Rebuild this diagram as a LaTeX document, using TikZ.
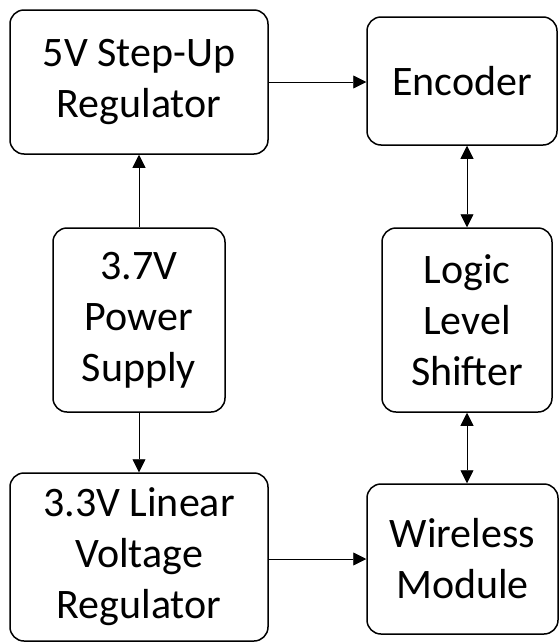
\documentclass[tikz,border=0pt]{standalone}
\usepackage{fontspec}
\setmainfont{Carlito}
\usepackage{tikz}
\usetikzlibrary{arrows.meta, positioning, calc}

\begin{document}
\begin{tikzpicture}[
    box/.style={draw, line width=1.5pt, rounded corners=14pt, inner sep=0pt, align=center, font=\fontsize{42}{51}\selectfont},
    arrow/.style={-{Triangle[length=13pt, width=13pt]}, line width=0.8pt},
    biarrow/.style={{Triangle[length=13pt, width=13pt]}-{Triangle[length=13pt, width=13pt]}, line width=0.8pt}
]
\useasboundingbox (0,0) rectangle (559pt,-643pt);

% left column
\node[box, minimum width=258pt, minimum height=144pt] (stepup) at (139pt,-82pt) {5V Step-Up\\Regulator};
\node[box, minimum width=172pt, minimum height=184pt] (power) at (139pt,-320pt) {3.7V\\Power\\Supply};
\node[box, minimum width=258pt, minimum height=168pt] (linear) at (139pt,-557pt) {3.3V Linear\\Voltage\\Regulator};

% right column
\node[box, minimum width=190pt, minimum height=128pt] (encoder) at (462pt,-81pt) {Encoder};
\node[box, minimum width=170pt, minimum height=184pt] (shifter) at (467pt,-320pt) {Logic\\Level\\Shifter};
\node[box, minimum width=191pt, minimum height=150pt] (wireless) at (462.5pt,-559pt) {Wireless\\Module};

\draw[arrow] (power) -- (stepup);
\draw[arrow] (power) -- (linear);
\draw[arrow] (stepup.east) -- (encoder.west |- stepup.east);
\draw[arrow] (linear.east |- wireless.west) -- (wireless.west);
\draw[biarrow] (shifter.north |- encoder.south) -- (shifter.north);
\draw[biarrow] (shifter.south) -- (shifter.south |- wireless.north);

\end{tikzpicture}
\end{document}
